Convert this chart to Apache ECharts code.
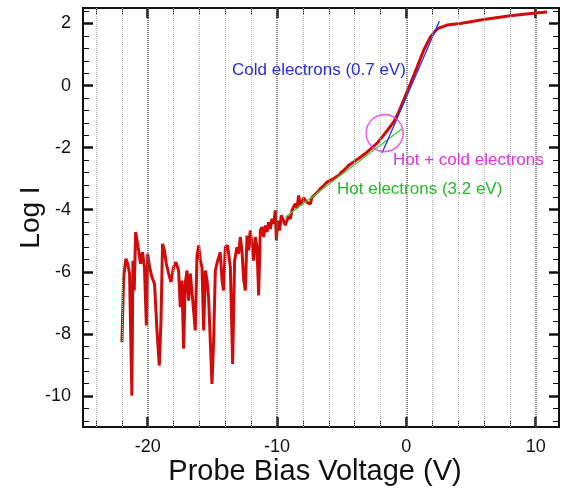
<!DOCTYPE html>
<html>
<head>
<meta charset="utf-8">
<script src="https://cdn.jsdelivr.net/npm/echarts@6/dist/echarts.min.js"></script>
<style>
html,body{margin:0;padding:0;background:#fff;}
#c{width:562px;height:491px;}
</style>
</head>
<body>
<div id="c"></div>
<script>
// Measured curve (probe bias voltage, log current)
var voltage = [
-21.99,-21.86,-21.68,-21.55,-21.40,-21.22,-21.14,-21.04,-20.93,-20.70,-20.55,-20.40,-20.25,-20.10,-20.00,
-19.85,-19.67,-19.47,-19.28,-19.10,-18.97,-18.85,-18.70,-18.56,-18.38,-18.20,-18.00,-17.81,-17.61,-17.48,
-17.35,-17.22,-17.10,-16.96,-16.84,-16.70,-16.58,-16.45,-16.32,-16.19,-16.06,-15.93,-15.80,-15.67,-15.54,
-15.41,-15.29,-15.03,-14.90,-14.77,-14.59,-14.39,-14.25,-14.13,-14.00,-13.82,-13.61,-13.43,-13.28,-13.10,
-12.97,-12.84,-12.71,-12.58,-12.45,-12.32,-12.20,-12.07,-11.94,-11.81,-11.68,-11.55,-11.42,-11.29,-11.16,
-11.03,-10.90,-10.77,-10.65,-10.52,-10.39,-10.26,-10.13,-10.05,-9.93,-9.80,-9.67,-9.50,-9.36,-9.23,
-9.10,-8.97,-8.84,-8.71,-8.58,-8.45,-8.33,-8.20,-8.07,-7.94,-7.81,-7.62,-7.42,-7.30,-7.17,
-7.04,-6.91,-6.78,-6.65,-6.52,-6.40,-6.26,-6.13,-5.87,-5.62,-5.42,-5.23,-5.04,-4.85,-4.66,
-4.46,-4.27,-4.07,-3.88,-3.69,-3.43,-3.17,-2.78,-2.30,-1.88,-1.37,-0.98,-0.59,-0.21,0.31,
0.83,1.34,1.86,2.24,2.50,3.15,4.18,5.98,8.04,10.00,10.88
];
var logI = [
-8.27,-6.17,-5.58,-5.74,-6.06,-9.99,-5.64,-6.60,-4.72,-5.31,-5.74,-5.37,-5.85,-7.73,-5.42,
-5.85,-6.17,-6.39,-7.89,-9.02,-7.57,-5.10,-5.31,-5.74,-6.06,-6.33,-5.85,-5.69,-5.96,-7.14,
-6.28,-8.48,-6.39,-5.96,-6.93,-6.06,-6.10,-7.25,-7.89,-5.50,-5.15,-5.64,-5.85,-7.89,-5.96,
-6.28,-6.82,-9.61,-8.22,-5.96,-5.64,-5.37,-6.28,-6.60,-5.21,-5.15,-5.85,-8.97,-5.64,-5.21,
-5.42,-4.88,-5.31,-6.23,-6.60,-4.83,-5.31,-4.67,-5.10,-5.64,-4.88,-5.21,-6.76,-4.67,-4.56,
-4.88,-4.51,-4.72,-4.40,-4.62,-4.29,-4.45,-4.02,-4.99,-4.35,-4.67,-4.18,-4.35,-4.50,-4.35,
-4.20,-4.30,-4.02,-3.90,-3.81,-3.95,-3.54,-3.85,-3.75,-3.62,-3.70,-3.78,-3.81,-3.60,-3.65,
-3.50,-3.54,-3.40,-3.32,-3.30,-3.22,-3.18,-3.11,-3.05,-3.00,-2.93,-2.90,-2.80,-2.73,-2.66,
-2.57,-2.52,-2.46,-2.40,-2.35,-2.27,-2.19,-2.05,-1.87,-1.66,-1.39,-1.17,-0.85,-0.47,0.06,
0.60,1.14,1.57,1.76,1.85,1.95,2.00,2.13,2.25,2.34,2.37
];
// Fit lines
var coldFitV = [-1.88, 2.55];
var coldFitLogI = [-2.17, 2.07];
var hotFitV = [-9.36, -0.33];
var hotFitLogI = [-4.24, -1.39];
// Transition marker (circle)
var transitionV = [-1.68];
var transitionLogI = [-1.53];
// Axes
var xMajorTicks = [-20, -10, 0, 10];
var xMinorTicks = [-24,-22,-18,-16,-14,-12,-8,-6,-4,-2,2,4,6,8];
var yMajorTicks = [-10, -8, -6, -4, -2, 0, 2];
var yMinorTicks = [-10.8,-10.4,-9.6,-9.2,-8.8,-8.4,-7.6,-7.2,-6.8,-6.4,-5.6,-5.2,-4.8,-4.4,-3.6,-3.2,-2.8,-2.4,-1.6,-1.2,-0.8,-0.4,0.4,0.8,1.2,1.6,2.4];
var xMin = -25, xMax = 11.8, yMin = -11, yMax = 2.5;
var annotations = ['Cold electrons (0.7 eV)', 'Hot + cold electrons', 'Hot electrons (3.2 eV)'];

function zip(a, b) { return a.map(function (v, i) { return [v, b[i]]; }); }

var FONT = 'Liberation Sans, Arial, sans-serif';
function xAx(pos, ticks, major, labels) {
  return {
    type: 'value', position: pos, min: xMin, max: xMax,
    axisLine: { show: true, onZero: false, lineStyle: { color: '#111', width: 2 } },
    axisTick: { show: true, inside: true, customValues: ticks, length: major ? 10 : 6, lineStyle: { color: '#111', width: major ? 2.5 : 1 } },
    axisLabel: labels ? { show: true, customValues: ticks, fontSize: 18, color: '#111', margin: 11, fontFamily: FONT } : { show: false },
    splitLine: { show: false },
    name: labels ? 'Probe Bias Voltage (V)' : '',
    nameLocation: 'middle', nameGap: 30, nameMoveOverlap: false,
    nameTextStyle: { fontSize: 29, color: '#111', fontFamily: FONT, padding: [0, 12, 0, 0] }
  };
}
function yAx(pos, ticks, major, labels) {
  return {
    type: 'value', position: pos, min: yMin, max: yMax,
    axisLine: { show: true, onZero: false, lineStyle: { color: '#111', width: 2 } },
    axisTick: { show: true, inside: true, customValues: ticks, length: major ? 10 : 6, lineStyle: { color: '#111', width: major ? 2.5 : 1 } },
    axisLabel: labels ? { show: true, customValues: ticks, fontSize: 18, color: '#111', margin: 12, fontFamily: FONT } : { show: false },
    splitLine: { show: false },
    name: labels ? 'Log I' : '',
    nameLocation: 'middle', nameGap: 38, nameRotate: 90, nameMoveOverlap: false,
    nameTextStyle: { fontSize: 28, color: '#111', fontFamily: FONT }
  };
}

var gridLines = xMinorTicks.map(function (v) {
  return { xAxis: v, lineStyle: { color: '#b4b4b4', width: 1, type: [1, 1] } };
}).concat(xMajorTicks.map(function (v) {
  return { xAxis: v, lineStyle: { color: '#666', width: 1.5, type: [1, 1] } };
}));

var chart = echarts.init(document.getElementById('c'), null, { renderer: 'canvas' });
chart.setOption({
  animation: false,
  backgroundColor: '#fff',
  grid: { left: 83, right: 3, top: 8, bottom: 64, containLabel: false, outerBoundsMode: 'none' },
  xAxis: [xAx('bottom', xMajorTicks, true, true), xAx('bottom', xMinorTicks, false, false),
          xAx('top', xMajorTicks, true, false), xAx('top', xMinorTicks, false, false)],
  yAxis: [yAx('left', yMajorTicks, true, true), yAx('left', yMinorTicks, false, false),
          yAx('right', yMajorTicks, true, false), yAx('right', yMinorTicks, false, false)],
  series: [
    {
      type: 'line', data: [], z: 1, silent: true,
      markLine: { symbol: 'none', silent: true, label: { show: false }, animation: false, data: gridLines }
    },
    {
      type: 'line', data: zip(voltage, logI), showSymbol: false, z: 3,
      lineStyle: { color: '#d10a0a', width: 3 }, itemStyle: { color: '#d10a0a' }
    },
    {
      type: 'line', data: zip(hotFitV, hotFitLogI), showSymbol: false, z: 4,
      lineStyle: { color: '#3ccc3c', width: 1.3 }
    },
    {
      type: 'line', data: zip(coldFitV, coldFitLogI), showSymbol: false, z: 4,
      lineStyle: { color: '#2233ee', width: 1.3 }
    },
    {
      type: 'scatter', data: zip(transitionV, transitionLogI), symbol: 'circle', symbolSize: 37, z: 5,
      itemStyle: { color: 'rgba(0,0,0,0)', borderColor: '#e83ae8', borderWidth: 1.6 }
    }
  ],
  graphic: [
    { type: 'text', x: 232, y: 70, z: 10, style: { text: annotations[0], fill: '#2a2ae0', font: '17px ' + FONT, textAlign: 'left', textVerticalAlign: 'middle' } },
    { type: 'text', x: 393, y: 160, z: 10, style: { text: annotations[1], fill: '#e030e0', font: '17px ' + FONT, textAlign: 'left', textVerticalAlign: 'middle' } },
    { type: 'text', x: 337, y: 189, z: 10, style: { text: annotations[2], fill: '#22bb22', font: '17px ' + FONT, textAlign: 'left', textVerticalAlign: 'middle' } }
  ]
});
</script>
</body>
</html>
